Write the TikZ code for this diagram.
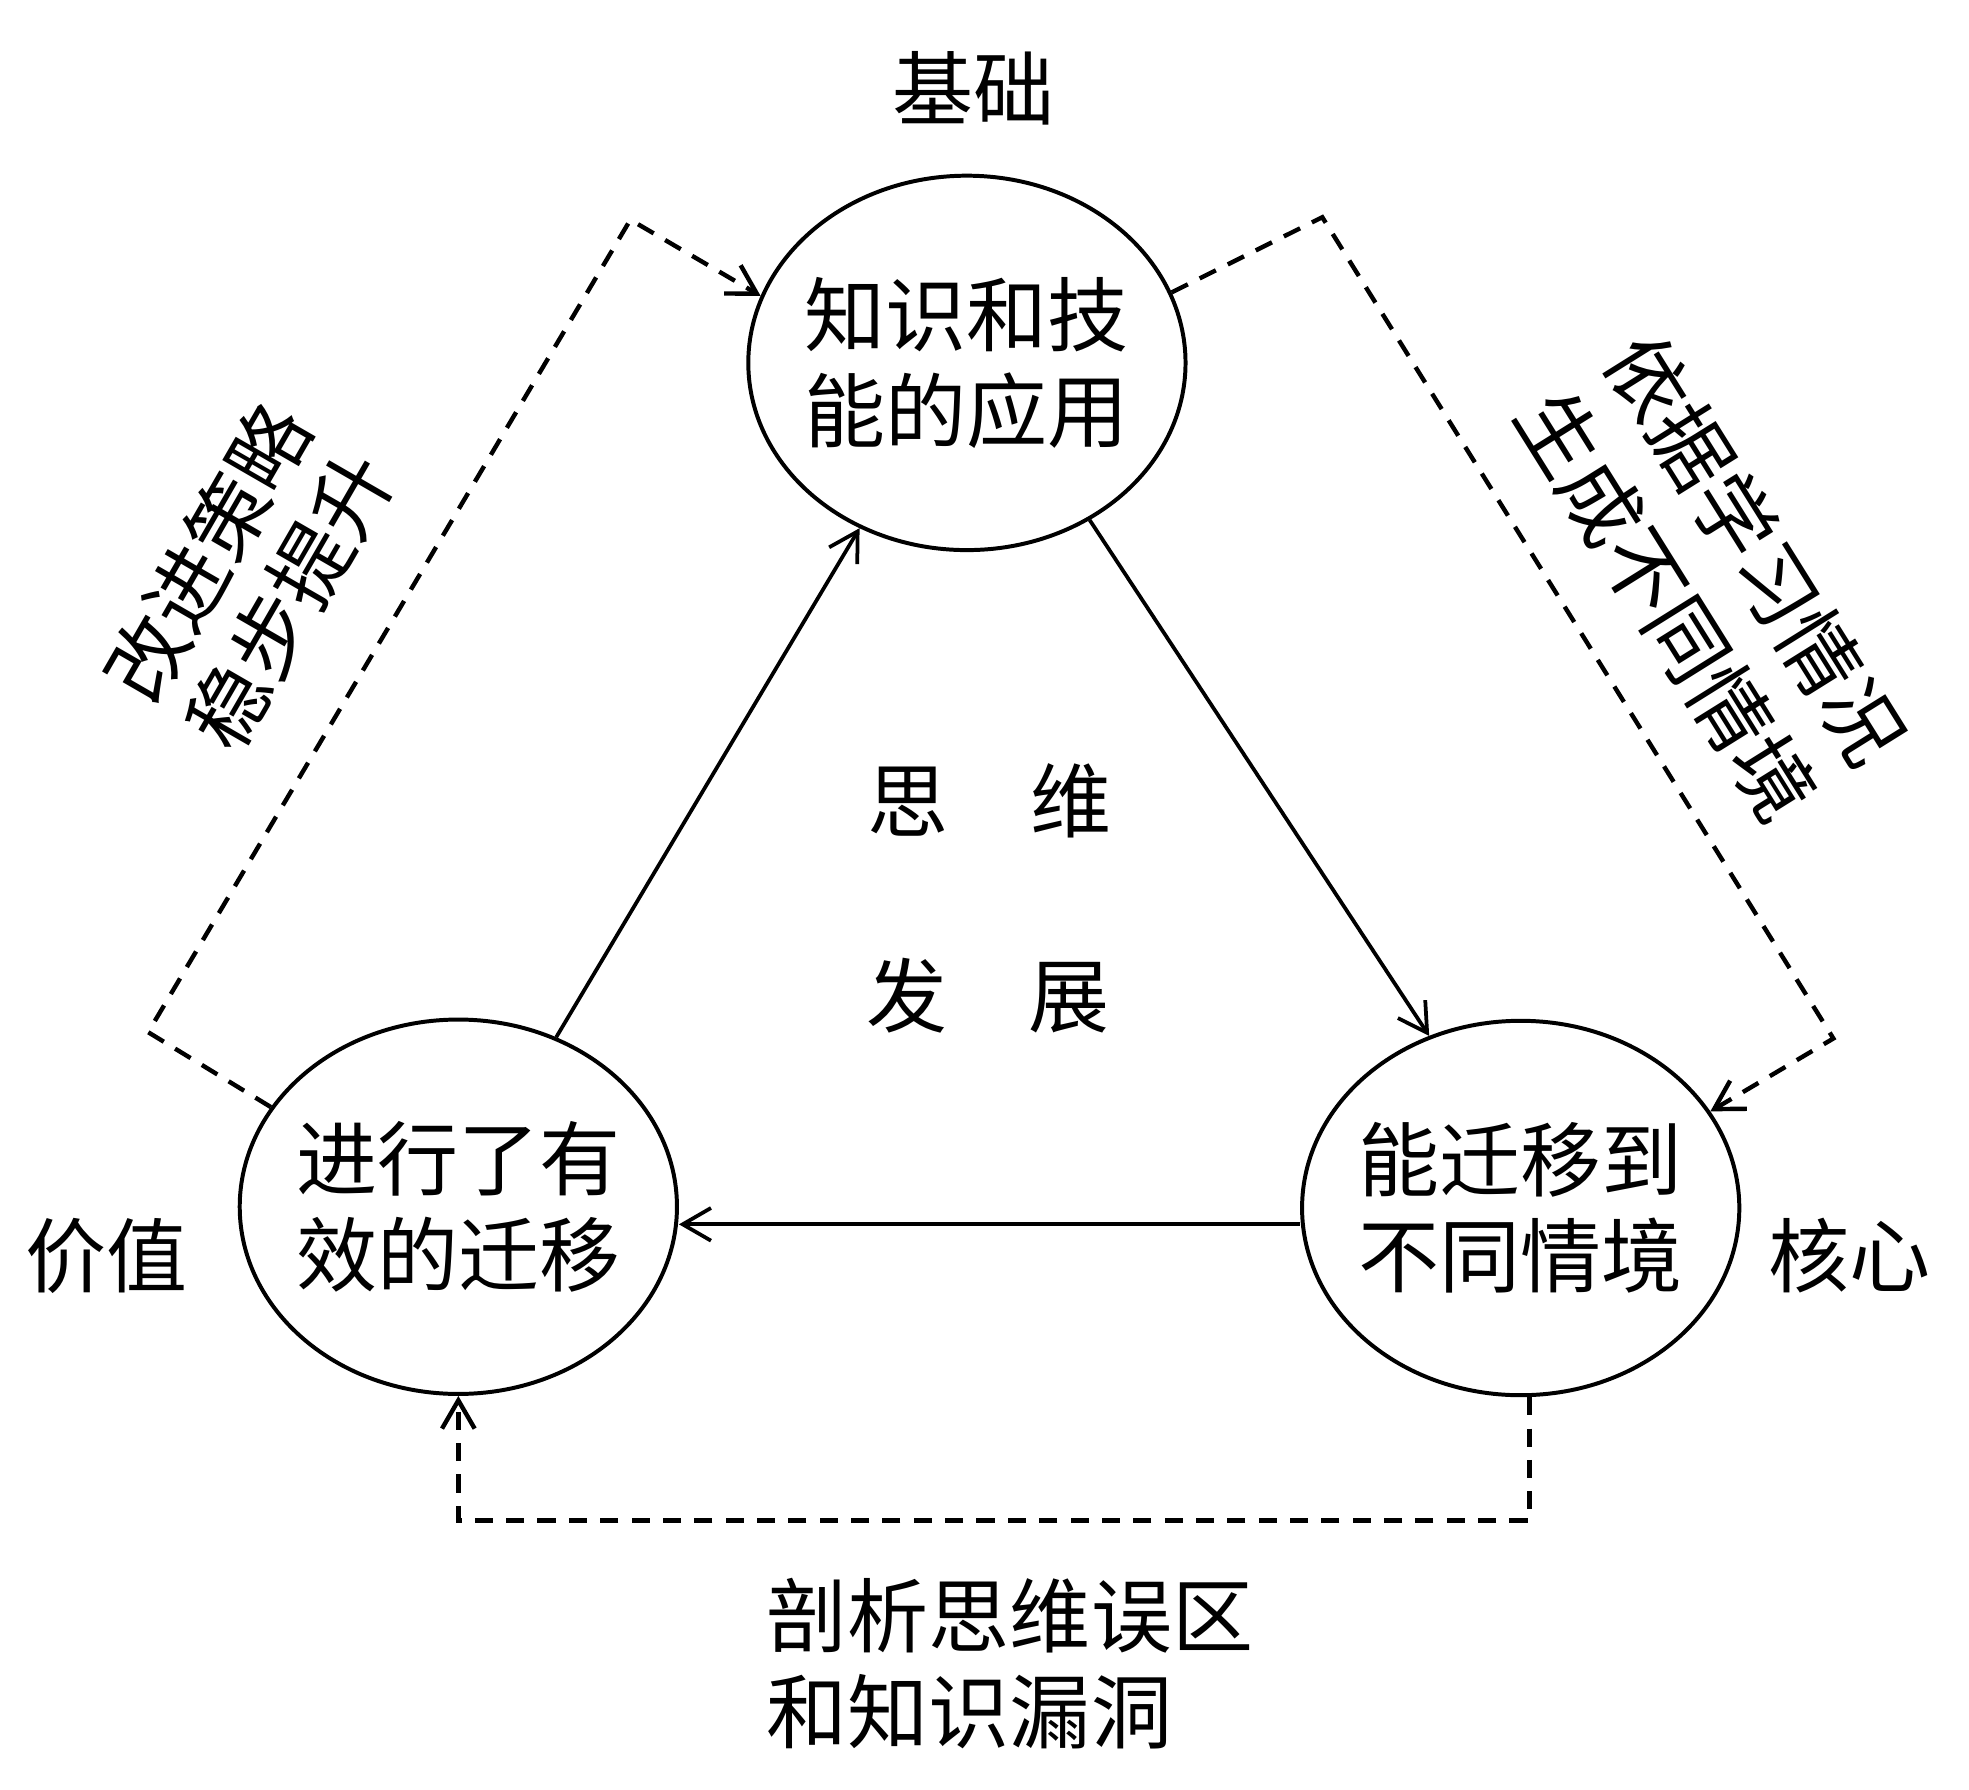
\documentclass[tikz,border=0pt]{standalone}
\usepackage{fontspec}
\newfontfamily\cjk{Noto Sans CJK SC}
\usetikzlibrary{arrows.meta,shapes.geometric}
\begin{document}
\begin{tikzpicture}[x=0.01cm,y=-0.01cm,
  ell/.style={draw, ellipse, line width=0.9pt, minimum width=3.48cm, minimum height=2.98cm, inner sep=0pt},
  lbl/.style={font=\cjk\fontsize{18.35pt}{21.8pt}\selectfont, inner sep=0pt, align=center},
  flow/.style={line width=0.85pt, -{Straight Barb[length=6.4pt,width=7.4pt]}},
  dflow/.style={flow, line width=1pt, dash pattern=on 4.1pt off 3pt}]
\fill[white] (0,0) rectangle (1568,1425);
\useasboundingbox (0,0) rectangle (1568,1425);

% ellipses
\node[ell] (T) at (770,289) {};
\node[ell] (L) at (365,961) {};
\node[ell] (R) at (1211,962) {};

% texts
\node[lbl] (Tt) at (T) {知识和技\\能的应用};
\node[lbl] (Lt) at (L) {进行了有\\效的迁移};
\node[lbl] (Rt) at (R) {能迁移到\\不同情境};
\node[lbl] (jc) at (775,70) {基础};
\node[lbl] (jz) at (85,1000) {价值};
\node[lbl] (hx) at (1473,1000) {核心};
\node[lbl] (sw) at (788,638) {思　维};
\node[lbl] (fz) at (787,793) {发　展};
\node[lbl, align=left, anchor=west] (pb) at (610,1325) {剖析思维误区\\和知识漏洞};
\node[lbl, rotate=60, font=\cjk\fontsize{18.35pt}{21.6pt}\selectfont] (gj) at (198,459) {改进策略\\稳步提升};
\node[lbl, rotate=-58, font=\cjk\fontsize{18.35pt}{23.8pt}\selectfont] (yj) at (1363,460) {依据学习情况\\生成不同情境};

% solid connectors
\coordinate (h) at (0,975);
\draw[flow] (L.60) -- (T.-123);
\draw[flow] (T.-52) -- (R.118.5);
\draw[flow] (R.west |- h) -- (L.east |- h);

% dashed connectors
\coordinate (c1) at (118,822);
\coordinate (c2) at (502,175);
\coordinate (c3) at (1053,173);
\coordinate (c4) at (1460,827);
\coordinate (c5) at (1218,1211);
\draw[dflow] (L.152.5) -- (c1) -- (c2) -- (T.162.8);
\draw[dflow] (T.19.7) -- (c3) -- (c4) -- (R.27.2);
\draw[dflow] (R.south -| c5) -- (c5) -- (L.south |- c5) -- (L.south);
\end{tikzpicture}
\end{document}
